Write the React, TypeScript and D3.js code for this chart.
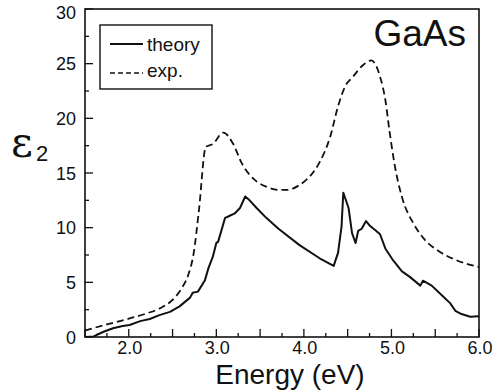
import React from "react";
import * as d3 from "d3";

const expEnergy = [1.5, 1.75, 2.01, 2.2, 2.35, 2.5, 2.6, 2.68, 2.74, 2.8, 2.88, 2.96, 3.08, 3.19, 3.29, 3.42, 3.57, 3.73, 3.8, 3.95, 4.03, 4.12, 4.18, 4.3, 4.39, 4.47, 4.56, 4.68, 4.77, 4.87, 4.93, 4.98, 5.04, 5.12, 5.25, 5.38, 5.55, 5.75, 6.0];
const expEps2 = [0.6, 1.15, 1.7, 2.15, 2.6, 3.4, 4.4, 5.7, 7.6, 11.5, 17.4, 17.65, 18.7, 17.7, 15.9, 14.5, 13.75, 13.45, 13.45, 13.9, 14.4, 15.2, 16.0, 18.3, 21.1, 22.9, 23.8, 24.9, 25.3, 23.8, 21.7, 18.7, 15.6, 12.8, 10.4, 8.9, 7.8, 7.0, 6.4];

const theoryEnergy = [1.5, 1.6, 1.63, 1.72, 1.82, 1.93, 2.01, 2.13, 2.24, 2.35, 2.47, 2.58, 2.7, 2.73, 2.79, 2.87, 2.91, 2.96, 3.0, 3.02, 3.06, 3.1, 3.13, 3.21, 3.27, 3.33, 3.38, 3.46, 3.57, 3.71, 3.95, 4.18, 4.34, 4.39, 4.43, 4.45, 4.51, 4.55, 4.59, 4.62, 4.66, 4.71, 4.75, 4.81, 4.87, 4.93, 5.02, 5.12, 5.21, 5.33, 5.36, 5.46, 5.59, 5.67, 5.73, 5.8, 5.9, 6.0];
const theoryEps2 = [0.0, 0.05, 0.18, 0.5, 0.8, 1.0, 1.1, 1.45, 1.65, 2.0, 2.3, 2.8, 3.6, 4.05, 4.15, 5.2, 6.3, 7.35, 8.6, 8.7, 9.8, 10.9, 11.0, 11.3, 11.8, 12.85, 12.5, 11.8, 10.9, 9.9, 8.4, 7.2, 6.5, 7.7, 10.1, 13.2, 11.8, 9.5, 8.6, 9.7, 9.9, 10.6, 10.2, 9.8, 9.4, 8.1, 7.0, 6.0, 5.5, 4.7, 5.15, 4.7, 3.7, 3.1, 2.4, 2.1, 1.85, 1.9];

const xTickLabels = ["2.0", "3.0", "4.0", "5.0", "6.0"];
const yTickLabels = ["0", "5", "10", "15", "20", "25", "30"];

export default function App() {
  const x = d3.scaleLinear().domain([1.5, 6]).range([85, 479]);
  const y = d3.scaleLinear().domain([0, 30]).range([337, 9]);
  const ink = "#111";

  const expLine = d3
    .line<number>()
    .x((_, i) => x(expEnergy[i]))
    .y((d) => y(d))
    .curve(d3.curveMonotoneX);
  const thLine = d3
    .line<number>()
    .x((_, i) => x(theoryEnergy[i]))
    .y((d) => y(d));

  const xMinor = d3.range(1.5, 6.001, 0.25);
  const yMinor = d3.range(0, 30.001, 2.5);
  const font = "'Liberation Sans', Arial, sans-serif";

  return (
    <svg
      width={495}
      height={391}
      style={{ position: "absolute", left: 0, top: 0, background: "#fff" }}
    >
      <defs>
        <clipPath id="plot">
          <rect x={85} y={9} width={394} height={328} />
        </clipPath>
      </defs>
      {xMinor.map((t) => {
        const major = Math.abs(t * 2 - Math.round(t * 2)) < 1e-6;
        return (
          <line
            key={"xt" + t}
            x1={x(t)}
            x2={x(t)}
            y1={337}
            y2={337 - (major ? 8 : 4)}
            stroke={ink}
            strokeWidth={1.3}
          />
        );
      })}
      {yMinor.map((t) => {
        const major = Math.abs(t / 5 - Math.round(t / 5)) < 1e-6;
        return (
          <line
            key={"yt" + t}
            x1={85}
            x2={85 + (major ? 8 : 4)}
            y1={y(t)}
            y2={y(t)}
            stroke={ink}
            strokeWidth={1.3}
          />
        );
      })}
      <g clipPath="url(#plot)">
        <path d={expLine(expEps2) || ""} fill="none" stroke={ink} strokeWidth={1.8} strokeDasharray="7,4" />
        <path d={thLine(theoryEps2) || ""} fill="none" stroke={ink} strokeWidth={2} strokeLinejoin="round" />
      </g>
      <rect x={85} y={9} width={394} height={328} fill="none" stroke={ink} strokeWidth={1.6} />
      {xTickLabels.map((l) => (
        <text key={"xl" + l} x={x(+l) + 1} y={354} fontFamily={font} fontSize={18} textAnchor="middle" fill={ink}>
          {l}
        </text>
      ))}
      {yTickLabels.map((l) => (
        <text
          key={"yl" + l}
          x={76}
          y={y(+l) + (l === "30" ? 10 : 6.5)}
          fontFamily={font}
          fontSize={18}
          textAnchor="end"
          fill={ink}
        >
          {l}
        </text>
      ))}
      <text x={290} y={384} fontFamily={font} fontSize={28} textAnchor="middle" fill={ink}>
        Energy (eV)
      </text>
      <text x={11} y={157} fontFamily="'DejaVu Serif', 'Liberation Serif', serif" fontSize={42} fill={ink}>
        ε
      </text>
      <text x={36} y={161} fontFamily={font} fontSize={22} fill={ink}>
        2
      </text>
      <text x={466} y={46} fontFamily={font} fontSize={37} textAnchor="end" fill={ink}>
        GaAs
      </text>
      <rect x={100} y={25} width={112} height={64} fill="#fff" stroke={ink} strokeWidth={1.4} />
      <line x1={110} x2={143} y1={44} y2={44} stroke={ink} strokeWidth={1.8} />
      <line x1={110} x2={143} y1={73} y2={73} stroke={ink} strokeWidth={1.6} strokeDasharray="5,3" />
      <text x={147} y={51} fontFamily={font} fontSize={19} fill={ink}>
        theory
      </text>
      <text x={147} y={77} fontFamily={font} fontSize={19} fill={ink}>
        exp.
      </text>
    </svg>
  );
}
